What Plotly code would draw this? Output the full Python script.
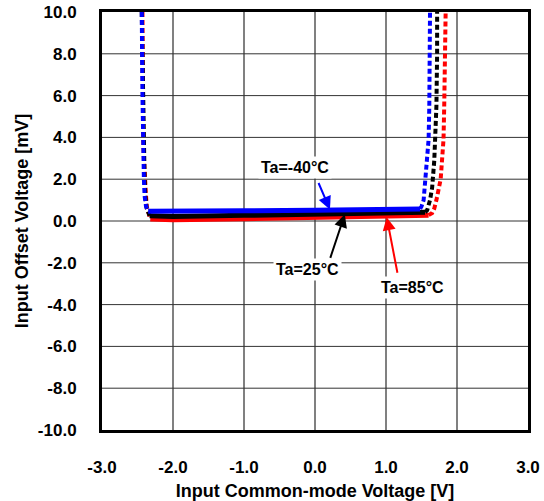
import plotly.graph_objects as go

# ---- data ----
# Ta=-40°C (blue)
blue_left_x = [-2.44, -2.44, -2.43, -2.42, -2.42, -2.41, -2.40, -2.38, -2.35]
blue_left_y = [10.0, 8.0, 6.0, 4.0, 3.0, 2.0, 1.2, 0.7, 0.47]
blue_flat_x = [-2.35, -2.0, -1.0, 0.0, 1.0, 1.48]
blue_flat_y = [0.47, 0.46, 0.49, 0.52, 0.55, 0.58]
blue_right_x = [1.48, 1.50, 1.53, 1.55, 1.57, 1.60, 1.61, 1.62, 1.62]
blue_right_y = [0.58, 0.7, 1.0, 2.0, 2.9, 3.9, 5.5, 8.0, 10.0]

# Ta=25°C (black)
black_left_x = [-2.44, -2.43, -2.43, -2.42, -2.41, -2.40, -2.39, -2.37, -2.33]
black_left_y = [10.0, 8.0, 6.0, 4.0, 3.0, 2.0, 1.2, 0.6, 0.25]
black_flat_x = [-2.33, -2.0, -1.0, 0.0, 1.0, 1.55]
black_flat_y = [0.25, 0.22, 0.27, 0.32, 0.37, 0.42]
black_right_x = [1.55, 1.58, 1.62, 1.65, 1.68, 1.69, 1.71, 1.72, 1.72]
black_right_y = [0.42, 0.52, 1.0, 1.6, 2.9, 3.9, 5.5, 8.0, 10.0]

# Ta=85°C (red)
red_left_x = [-2.43, -2.43, -2.42, -2.42, -2.41, -2.40, -2.38, -2.37, -2.32]
red_left_y = [10.0, 8.0, 6.0, 4.0, 3.0, 2.0, 1.2, 0.68, 0.1]
red_flat_x = [-2.32, -2.0, -1.0, 0.0, 1.0, 1.60]
red_flat_y = [0.1, 0.06, 0.11, 0.17, 0.22, 0.28]
red_right_x = [1.60, 1.65, 1.68, 1.71, 1.77, 1.79, 1.81, 1.82, 1.83, 1.84]
red_right_y = [0.28, 0.38, 0.6, 1.0, 2.0, 2.9, 3.9, 5.5, 8.0, 10.0]

x_ticks = [-3.0, -2.0, -1.0, 0.0, 1.0, 2.0, 3.0]
y_ticks = [-10.0, -8.0, -6.0, -4.0, -2.0, 0.0, 2.0, 4.0, 6.0, 8.0, 10.0]

labels = ["Ta=-40°C", "Ta=25°C", "Ta=85°C"]
label_x = [-0.28, -0.11, 1.38]
label_y = [2.58, -2.34, -3.16]
arrow_tip_x = [0.21, 0.42, 1.01]
arrow_tip_y = [0.55, 0.32, 0.18]

curves = [
    ("#ff0000", red_left_x, red_left_y, red_flat_x, red_flat_y, red_right_x, red_right_y),
    ("#000000", black_left_x, black_left_y, black_flat_x, black_flat_y, black_right_x, black_right_y),
    ("#0000ff", blue_left_x, blue_left_y, blue_flat_x, blue_flat_y, blue_right_x, blue_right_y),
]
colors_lbl = ["#0000ff", "#000000", "#ff0000"]

FAM = "Liberation Sans, Arial, sans-serif"

fig = go.Figure()

# grid lines: vertical gray, horizontal dark
for xv in x_ticks[1:-1]:
    fig.add_shape(type="line", xref="x", yref="paper", x0=xv, x1=xv, y0=0, y1=1,
                  line=dict(color="#808080", width=2), layer="below")
for yv in y_ticks[1:-1]:
    fig.add_shape(type="line", xref="paper", yref="y", x0=0, x1=1, y0=yv, y1=yv,
                  line=dict(color="#333333", width=1), layer="below")

for col, lx, ly, fx, fy, rx, ry in curves:
    fig.add_trace(go.Scatter(x=lx + [None] + rx, y=ly + [None] + ry, mode="lines",
                             line=dict(color=col, width=4, dash="5px,3px"),
                             connectgaps=False, showlegend=False, hoverinfo="skip"))
    fig.add_trace(go.Scatter(x=fx, y=fy, mode="lines",
                             line=dict(color=col, width=5),
                             showlegend=False, hoverinfo="skip"))

font_lbl = dict(family=FAM, size=16, color="black")
for i in range(3):
    fig.add_annotation(x=label_x[i], y=label_y[i], text="<b>%s</b>" % labels[i],
                       showarrow=False, bgcolor="white", font=font_lbl,
                       borderpad=2)

offsets = [(-12, -28), (-15, 45), (11, 57)]
for i in range(3):
    fig.add_annotation(x=arrow_tip_x[i], y=arrow_tip_y[i], text="", showarrow=True,
                       ax=offsets[i][0], ay=offsets[i][1], arrowhead=2, arrowsize=1.3,
                       arrowwidth=2, arrowcolor=colors_lbl[i], standoff=0)

axis_font = dict(family=FAM, size=17, color="black")
title_font = dict(family=FAM, size=18, color="black")
fig.update_xaxes(range=[-3, 3], tickvals=x_ticks,
                 ticktext=["<b>%.1f</b>" % v for v in x_ticks],
                 showgrid=False, zeroline=False, showline=True, linecolor="black",
                 linewidth=3, mirror=True, ticks="", tickfont=axis_font,
                 ticklabelstandoff=20, automargin=False,
                 title=dict(text="<b>Input Common-mode Voltage [V]</b>",
                            font=title_font, standoff=11))
fig.update_yaxes(range=[-10, 10], tickvals=y_ticks,
                 ticktext=["<b>%.1f</b>" % v for v in y_ticks],
                 showgrid=False, zeroline=False, showline=True, linecolor="black",
                 linewidth=3, mirror=True, ticks="", tickfont=axis_font,
                 ticklabelstandoff=19, automargin=False,
                 title=dict(text="<b>Input Offset Voltage [mV]</b>",
                            font=title_font, standoff=5))

fig.update_layout(width=544, height=501, margin=dict(l=102, r=16, t=12, b=71),
                  plot_bgcolor="white", paper_bgcolor="white", showlegend=False)

fig.write_html("out.html", config={"displayModeBar": False},
               post_script="document.body.style.margin='0';document.body.style.overflow='hidden';")
